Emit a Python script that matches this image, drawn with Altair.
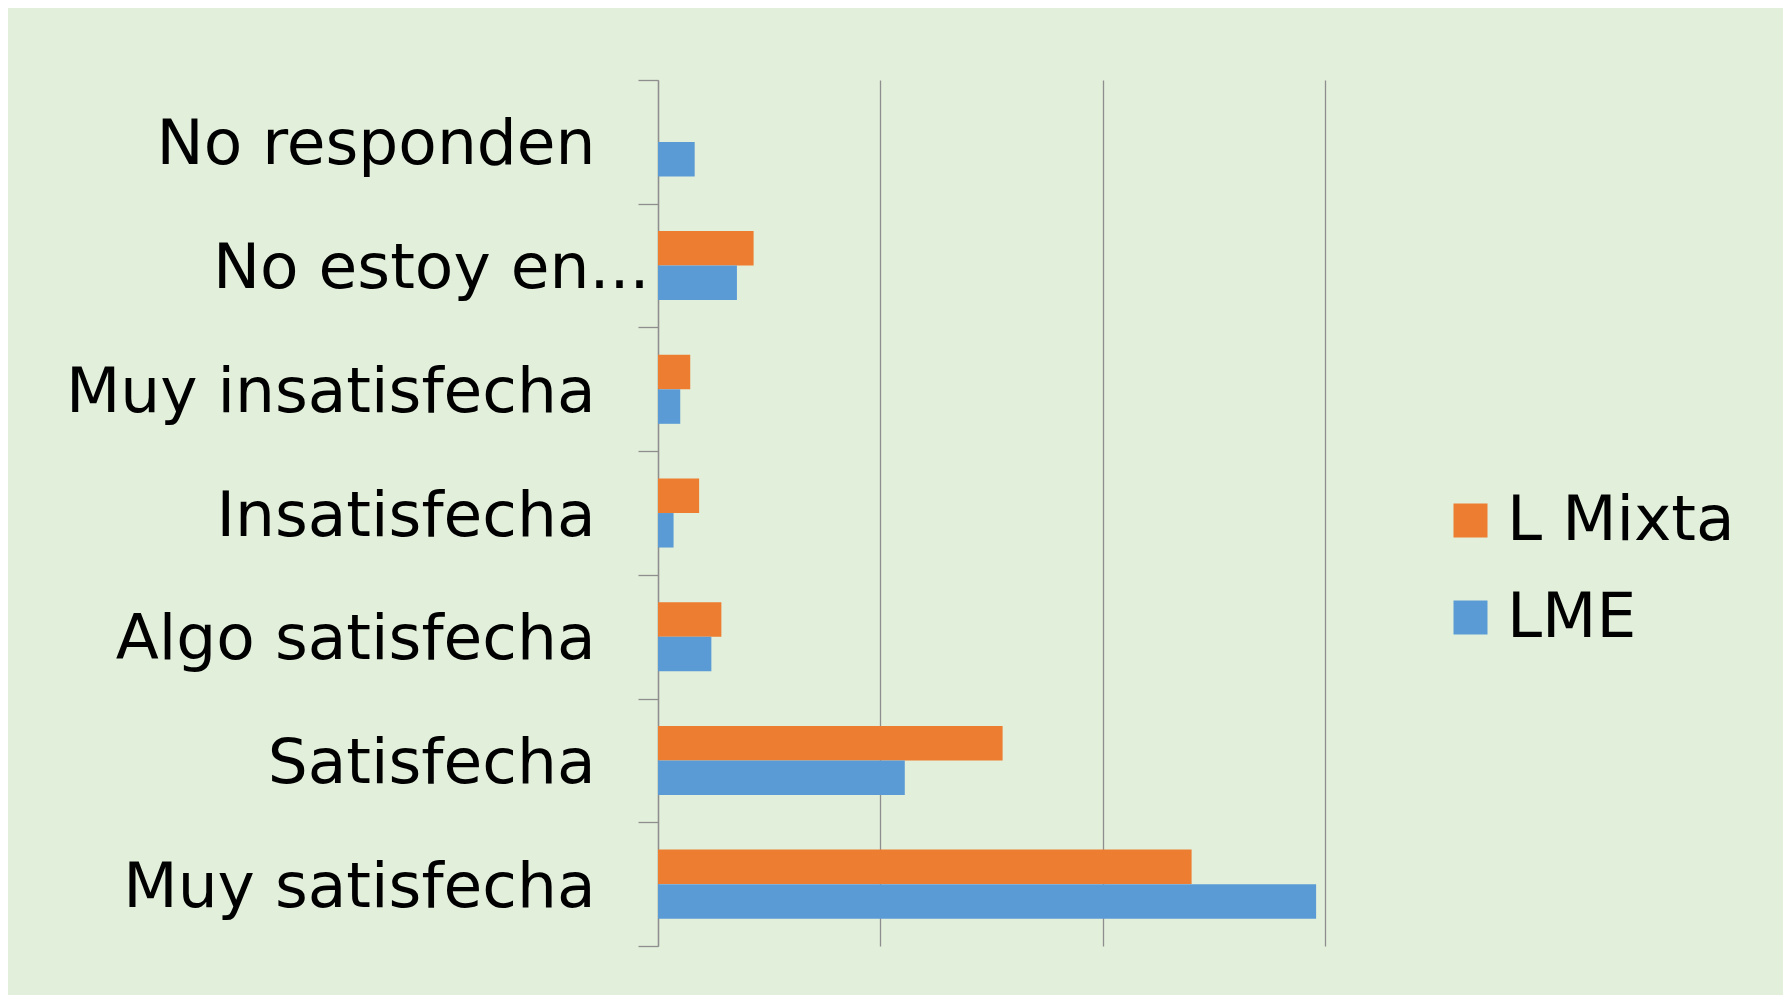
import altair as alt
import pandas as pd

categories = ["No responden", "No estoy en...", "Muy insatisfecha", "Insatisfecha",
              "Algo satisfecha", "Satisfecha", "Muy satisfecha"]
series = ["L Mixta", "LME"]
l_mixta = [0.0, 8.6, 2.9, 3.7, 5.7, 31.0, 48.0]
lme = [3.3, 7.1, 2.0, 1.4, 4.8, 22.2, 59.2]
colors = ["#ED7D31", "#5B9BD5"]

rows = []
for c, a, b in zip(categories, l_mixta, lme):
    rows.append({"cat": c, "serie": "L Mixta", "val": a})
    rows.append({"cat": c, "serie": "LME", "val": b})
df = pd.DataFrame(rows)

W, H = 667, 866
BG = "#E2EFDA"
GRID = "#8E8E8E"
FS = 63

bars = alt.Chart(df).mark_bar(size=34.5).encode(
    x=alt.X("val:Q",
            scale=alt.Scale(domain=[0, 60], nice=False),
            axis=alt.Axis(values=[0, 20, 40, 60], labels=False, ticks=False,
                          domain=False, grid=True, gridColor=GRID, gridWidth=1.3,
                          title=None)),
    y=alt.Y("cat:N", sort=categories,
            scale=alt.Scale(paddingInner=0, paddingOuter=0),
            axis=alt.Axis(title=None, tickBand="extent", tickSize=20,
                          tickColor=GRID, tickWidth=1.3, domainColor=GRID,
                          domainWidth=1.3, grid=False,
                          labelFont="DejaVu Sans", labelFontSize=FS,
                          labelColor="#000000", labelLimit=700, labelOffset=3,
                          labelPadding=alt.condition("datum.value == 'No estoy en...'",
                                                     alt.value(-11), alt.value(43)))),
    yOffset=alt.YOffset("serie:N", sort=series,
                        scale=alt.Scale(paddingInner=0, paddingOuter=0.79)),
    color=alt.Color("serie:N", sort=series,
                    scale=alt.Scale(domain=series, range=colors),
                    legend=alt.Legend(title=None, orient="none", legendX=781, legendY=409,
                                      symbolType="square", symbolSize=1156,
                                      symbolStrokeWidth=0, labelFont="DejaVu Sans",
                                      labelFontSize=FS, labelColor="#000000",
                                      rowPadding=33, labelOffset=5,
                                      labelLimit=600)),
)

chart = bars.properties(
    width=W, height=H, background=BG,
    autosize=alt.AutoSizeParams(type="none"),
    padding={"left": 650, "top": 72, "right": 458, "bottom": 49},
).configure_view(stroke=None)

chart.save("out.html", embed_options={"renderer": "svg", "actions": False})
